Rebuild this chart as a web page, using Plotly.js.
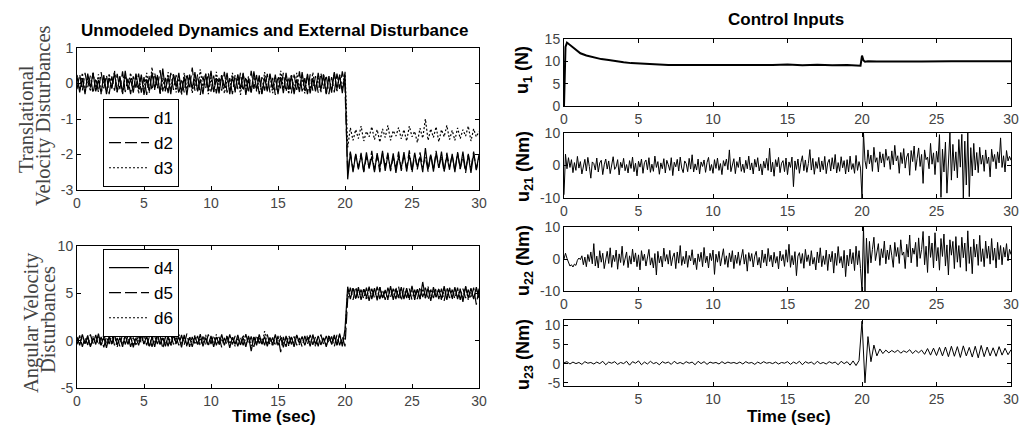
<!DOCTYPE html>
<html><head><meta charset="utf-8">
<script src="https://cdn.plot.ly/plotly-3.0.1.min.js"></script>
<style>html,body{margin:0;padding:0;background:#fff}#c{width:1019px;height:433px}</style>
</head><body><div id="c"></div>
<script>
// sample times (s), 0.2 s grid
const time = [0,0.2,0.4,0.6,0.8,1,1.2,1.4,1.6,1.8,
2,2.2,2.4,2.6,2.8,3,3.2,3.4,3.6,3.8,
4,4.2,4.4,4.6,4.8,5,5.2,5.4,5.6,5.8,
6,6.2,6.4,6.6,6.8,7,7.2,7.4,7.6,7.8,
8,8.2,8.4,8.6,8.8,9,9.2,9.4,9.6,9.8,
10,10.2,10.4,10.6,10.8,11,11.2,11.4,11.6,11.8,
12,12.2,12.4,12.6,12.8,13,13.2,13.4,13.6,13.8,
14,14.2,14.4,14.6,14.8,15,15.2,15.4,15.6,15.8,
16,16.2,16.4,16.6,16.8,17,17.2,17.4,17.6,17.8,
18,18.2,18.4,18.6,18.8,19,19.2,19.4,19.6,19.8,
20,20.2,20.4,20.6,20.8,21,21.2,21.4,21.6,21.8,
22,22.2,22.4,22.6,22.8,23,23.2,23.4,23.6,23.8,
24,24.2,24.4,24.6,24.8,25,25.2,25.4,25.6,25.8,
26,26.2,26.4,26.6,26.8,27,27.2,27.4,27.6,27.8,
28,28.2,28.4,28.6,28.8,29,29.2,29.4,29.6,29.8,
30];

// sample times (s), 0.1 s grid
const timeFine = [0,0.1,0.2,0.3,0.4,0.5,0.6,0.7,0.8,0.9,
1,1.1,1.2,1.3,1.4,1.5,1.6,1.7,1.8,1.9,
2,2.1,2.2,2.3,2.4,2.5,2.6,2.7,2.8,2.9,
3,3.1,3.2,3.3,3.4,3.5,3.6,3.7,3.8,3.9,
4,4.1,4.2,4.3,4.4,4.5,4.6,4.7,4.8,4.9,
5,5.1,5.2,5.3,5.4,5.5,5.6,5.7,5.8,5.9,
6,6.1,6.2,6.3,6.4,6.5,6.6,6.7,6.8,6.9,
7,7.1,7.2,7.3,7.4,7.5,7.6,7.7,7.8,7.9,
8,8.1,8.2,8.3,8.4,8.5,8.6,8.7,8.8,8.9,
9,9.1,9.2,9.3,9.4,9.5,9.6,9.7,9.8,9.9,
10,10.1,10.2,10.3,10.4,10.5,10.6,10.7,10.8,10.9,
11,11.1,11.2,11.3,11.4,11.5,11.6,11.7,11.8,11.9,
12,12.1,12.2,12.3,12.4,12.5,12.6,12.7,12.8,12.9,
13,13.1,13.2,13.3,13.4,13.5,13.6,13.7,13.8,13.9,
14,14.1,14.2,14.3,14.4,14.5,14.6,14.7,14.8,14.9,
15,15.1,15.2,15.3,15.4,15.5,15.6,15.7,15.8,15.9,
16,16.1,16.2,16.3,16.4,16.5,16.6,16.7,16.8,16.9,
17,17.1,17.2,17.3,17.4,17.5,17.6,17.7,17.8,17.9,
18,18.1,18.2,18.3,18.4,18.5,18.6,18.7,18.8,18.9,
19,19.1,19.2,19.3,19.4,19.5,19.6,19.7,19.8,19.9,
20,20.1,20.2,20.3,20.4,20.5,20.6,20.7,20.8,20.9,
21,21.1,21.2,21.3,21.4,21.5,21.6,21.7,21.8,21.9,
22,22.1,22.2,22.3,22.4,22.5,22.6,22.7,22.8,22.9,
23,23.1,23.2,23.3,23.4,23.5,23.6,23.7,23.8,23.9,
24,24.1,24.2,24.3,24.4,24.5,24.6,24.7,24.8,24.9,
25,25.1,25.2,25.3,25.4,25.5,25.6,25.7,25.8,25.9,
26,26.1,26.2,26.3,26.4,26.5,26.6,26.7,26.8,26.9,
27,27.1,27.2,27.3,27.4,27.5,27.6,27.7,27.8,27.9,
28,28.1,28.2,28.3,28.4,28.5,28.6,28.7,28.8,28.9,
29,29.1,29.2,29.3,29.4,29.5,29.6,29.7,29.8,29.9,
30];

const d1 = [0.2,-0.25,0.15,-0.3,0.28,-0.12,0.3,-0.22,0.1,-0.27,
0.24,-0.3,0.16,-0.14,0.3,-0.24,0.2,-0.28,0.36,-0.18,
0.14,-0.26,0.28,-0.16,0.25,-0.32,0.12,-0.22,0.3,-0.15,
0.22,-0.28,0.42,-0.2,0.17,-0.3,0.26,-0.1,0.3,-0.26,
0.18,-0.33,0.24,-0.15,0.32,-0.22,0.12,-0.3,0.27,-0.18,
0.36,-0.24,0.15,-0.28,0.22,-0.12,0.3,-0.3,0.2,-0.22,
0.26,-0.15,0.3,-0.32,0.14,-0.26,0.34,-0.18,0.23,-0.3,
0.17,-0.22,0.28,-0.14,0.25,-0.3,0.18,-0.27,0.3,-0.17,
0.22,-0.3,0.12,-0.24,0.32,-0.2,0.27,-0.28,0.15,-0.22,
0.3,-0.18,0.25,-0.3,0.2,-0.26,0.32,-0.15,0.24,-0.27,
0.3,
-2.7,-1.95,-2.5,-1.98,-2.42,-2.0,-2.48,-1.94,-2.4,-2.05,
-2.5,-1.96,-2.38,-1.9,-2.46,-2.02,-2.42,-1.97,-2.52,-2.04,
-2.4,-1.93,-2.48,-2.0,-2.44,-1.95,-2.36,-2.06,-2.5,-1.82,
-2.42,-2.0,-2.48,-1.96,-2.38,-1.92,-2.46,-2.04,-2.43,-1.98,
-2.5,-1.95,-2.4,-1.92,-2.45,-2.02,-2.52,-1.97,-2.42,-2.0];

const d2 = [-0.16,0.26,-0.2,0.3,-0.1,0.22,-0.28,0.16,-0.25,0.32,
-0.14,0.24,-0.3,0.2,-0.2,0.27,-0.16,0.34,-0.24,0.14,
-0.3,0.2,-0.12,0.28,-0.26,0.18,-0.32,0.25,-0.2,0.3,
-0.15,0.38,-0.22,0.16,-0.27,0.3,-0.18,0.24,-0.3,0.14,
-0.25,0.28,-0.16,0.45,-0.2,0.26,-0.32,0.2,-0.14,0.3,
-0.23,0.22,-0.28,0.16,-0.2,0.33,-0.26,0.15,-0.3,0.25,
-0.16,0.3,-0.22,0.2,-0.27,0.36,-0.15,0.24,-0.3,0.18,
-0.2,0.27,-0.25,0.16,-0.32,0.22,-0.14,0.3,-0.24,0.2,
-0.28,0.25,-0.18,0.34,-0.22,0.15,-0.3,0.26,-0.2,0.21,
-0.26,0.3,-0.16,0.24,-0.3,0.18,-0.25,0.28,-0.15,0.34,
-0.1,
-2.55,-1.92,-2.45,-2.0,-2.38,-1.95,-2.5,-2.05,-2.36,-1.9,
-2.44,-2.02,-2.5,-1.97,-2.34,-1.95,-2.47,-2.06,-2.4,-1.92,
-2.46,-2.03,-2.4,-1.88,-2.52,-2.0,-2.42,-1.94,-2.36,-2.06,
-2.48,-1.98,-2.44,-1.9,-2.38,-2.04,-2.5,-1.95,-2.35,-2.02,
-2.46,-1.93,-2.41,-2.04,-2.52,-1.98,-2.38,-1.92,-2.44,-2.06];

const d3 = [0.24,-0.16,0.3,-0.26,0.15,-0.22,0.33,-0.18,0.26,-0.3,
0.16,-0.24,0.28,-0.14,0.36,-0.25,0.2,-0.3,0.22,-0.13,
0.3,-0.2,0.25,-0.28,0.17,-0.16,0.3,-0.26,0.46,-0.18,
0.24,-0.3,0.15,-0.22,0.32,-0.17,0.27,-0.25,0.2,-0.32,
0.3,-0.16,0.25,-0.27,0.19,-0.22,0.4,-0.14,0.28,-0.3,
0.17,-0.24,0.33,-0.18,0.26,-0.28,0.15,-0.2,0.3,-0.25,
0.22,-0.32,0.27,-0.16,0.2,-0.26,0.3,-0.22,0.14,-0.3,
0.32,-0.18,0.25,-0.27,0.17,-0.24,0.36,-0.15,0.22,-0.3,
0.26,-0.2,0.3,-0.14,0.18,-0.28,0.24,-0.22,0.31,-0.17,
0.15,-0.26,0.27,-0.3,0.2,-0.18,0.3,-0.24,0.25,-0.15,
0.33,
-1.8,-1.25,-1.6,-1.3,-1.55,-1.2,-1.62,-1.35,-1.5,-1.22,
-1.58,-1.3,-1.65,-1.28,-1.52,-1.18,-1.6,-1.33,-1.48,-1.24,
-1.56,-1.3,-1.62,-1.2,-1.5,-1.35,-1.66,-1.26,-1.54,-1.0,
-1.6,-1.28,-1.52,-1.22,-1.64,-1.3,-1.5,-1.18,-1.58,-1.32,
-1.6,-1.25,-1.55,-1.3,-1.48,-1.2,-1.62,-1.28,-1.5,-1.35];

const d4 = [0.4,-0.5,0.65,-0.3,0.55,-0.65,0.3,-0.4,0.75,-0.5,
0.4,-0.75,0.5,-0.3,0.65,-0.45,0.35,-0.65,0.6,-0.4,
0.45,-0.7,0.3,-0.5,0.65,-0.35,0.5,-0.6,0.4,-0.65,
0.75,-0.4,0.3,-0.6,0.5,-0.45,0.65,-0.3,0.4,-0.7,
0.6,-0.5,0.35,-0.65,0.45,-0.4,0.7,-0.6,0.3,-0.45,
0.5,-0.65,0.4,-0.35,0.65,-0.5,0.45,-0.75,0.35,-0.4,
0.6,-0.45,0.3,-0.65,0.5,-1.1,0.4,-0.5,0.65,-0.35,
0.45,-0.6,0.35,-0.4,0.65,-0.5,0.3,-0.7,0.5,-0.4,
0.4,-0.65,0.6,-0.3,0.45,-0.5,0.35,-0.6,0.65,-0.4,
0.5,-0.45,0.3,-0.65,0.4,-0.35,0.6,-0.5,0.75,-0.6,
1.2,
5.7,4.4,5.55,4.45,5.65,4.3,5.45,4.6,5.7,4.4,
5.55,4.25,5.65,4.5,5.35,4.4,5.75,4.3,5.45,4.6,
5.65,4.4,5.55,4.5,5.8,4.3,5.45,4.4,6.2,4.5,
5.55,4.2,5.65,4.6,5.45,4.4,5.75,4.3,5.55,4.5,
5.65,4.4,5.45,4.1,5.75,4.5,5.55,4.4,5.65,4.5];

const d5 = [-0.4,0.55,-0.65,0.35,-0.45,0.65,-0.3,0.6,-0.5,0.4,
-0.7,0.45,-0.35,0.65,-0.5,0.3,-0.6,0.75,-0.4,0.5,
-0.65,0.35,-0.45,0.6,-0.3,0.7,-0.5,0.4,-0.65,0.45,
-0.35,0.5,-0.85,0.4,-0.6,0.65,-0.4,0.35,-0.5,0.6,
-0.45,0.75,-0.65,0.4,-0.3,0.5,-0.6,0.45,-0.4,0.65,
-0.35,0.6,-0.5,0.4,-0.7,0.3,-0.45,0.65,-0.4,0.5,
-0.6,0.35,-0.5,0.7,-0.4,0.45,-0.65,0.6,-0.3,0.4,
-0.5,0.65,-0.45,0.35,-0.6,0.5,-1.2,0.4,-0.65,0.6,
-0.4,0.45,-0.5,0.3,-0.65,0.5,-0.35,0.6,-0.45,0.4,
-0.6,0.65,-0.4,0.5,-0.3,0.45,-0.65,0.6,-0.5,0.4,
-0.6,
4.4,5.6,4.3,5.7,4.5,5.4,4.4,5.6,4.2,5.5,
4.5,5.7,4.4,5.4,4.3,5.6,4.6,5.5,4.4,5.7,
4.2,5.6,4.5,5.5,4.3,5.4,4.4,5.7,4.6,5.6,
4.3,5.4,4.5,5.6,4.4,5.5,4.2,5.7,4.5,5.4,
4.4,5.6,4.3,5.5,4.5,5.4,4.4,5.6,3.8,5.5];

const d6 = [0.15,-0.3,0.55,-0.4,0.3,-0.6,0.45,-0.15,0.4,-0.55,
0.65,-0.3,0.35,-0.45,0.55,-0.65,0.2,-0.4,0.6,-0.35,
0.4,-0.55,0.65,-0.2,0.45,-0.4,0.3,-0.65,0.55,-0.3,
0.4,-0.45,0.6,-0.35,0.2,-0.55,0.45,-0.4,0.65,-0.3,
0.35,-0.6,0.4,-0.2,0.55,-0.45,0.3,-0.4,0.6,-0.55,
0.4,-0.3,0.65,-0.45,0.2,-0.4,0.55,-0.35,0.45,-0.6,
0.3,-0.4,0.6,-0.3,0.4,-0.55,0.45,-0.2,0.35,-0.45,
1.0,-0.4,0.3,-0.6,0.45,-0.35,0.55,-0.4,0.2,-0.55,
0.4,-0.3,0.6,-0.45,0.35,-0.4,0.55,-0.2,0.4,-0.6,
0.45,-0.35,0.3,-0.55,0.6,-0.4,0.35,-0.45,0.65,-0.3,
0.5,
5.3,4.6,5.6,4.4,5.4,4.5,5.5,4.3,5.6,4.6,
5.4,4.4,5.7,4.5,5.3,4.3,5.5,4.6,5.6,4.4,
5.4,4.5,5.3,4.3,5.6,4.6,5.4,4.4,5.5,4.5,
5.7,4.4,5.3,4.6,5.5,4.3,5.4,4.5,5.6,4.4,
5.3,4.6,5.5,4.4,5.7,4.3,5.4,4.5,5.3,4.6];

const tU1 = [0,0.1,0.2,0.35,0.5,0.8,1.1,1.5,2,2.5,3,3.5,4,4.5,5,5.5,6,7,8,9,10,11,12,13,14,15,16,17,18,19,19.9,20,20.1,20.2,20.4,21,22,24,26,28,30];
const u1 = [0,13.2,14.2,13.8,13.2,12.4,11.8,11.3,10.9,10.5,10.3,10.0,9.8,9.6,9.5,9.4,9.25,9.2,9.2,9.2,9.2,9.15,9.25,9.1,9.2,9.3,9.15,9.25,9.1,9.2,9.0,11.3,10.2,9.9,10.0,9.95,10.0,9.95,10.0,9.95,10.0];

const u21 = [-9,3.5,-1.0,2.4,-0.6,1.8,-2.2,0.9,-1.5,2.8,
-0.8,1.2,-2.6,0.4,1.9,-1.7,2.5,-0.3,-3.9,1.1,
0.6,-1.4,2.3,-2.0,0.8,1.6,-2.8,0.2,2.0,-1.1,
1.4,-2.5,0.5,2.7,-1.2,-0.4,1.8,-2.9,1.0,-0.7,
2.2,-1.6,0.3,-2.3,1.5,-0.9,2.6,-1.9,0.7,-3.2,
1.3,-0.5,2.0,-2.4,0.9,1.7,-1.3,2.4,-2.1,0.4,
-1.8,2.9,-0.6,1.2,-2.7,0.8,-1.0,2.1,-2.3,1.6,
0.2,-1.5,2.4,-3.1,1.0,-0.4,1.9,-1.7,2.6,-0.8,
-2.2,1.4,0.6,-1.9,2.2,-1.1,3.3,-2.0,0.5,-1.4,
2.0,-2.6,1.1,-0.3,1.7,-2.1,0.9,2.5,-1.6,0.3,
-2.4,1.8,-0.9,2.3,-1.5,0.6,-2.8,1.5,-0.2,2.0,
-1.3,4.8,-1.9,0.7,2.1,-2.5,1.2,-0.6,2.6,-1.8,
0.4,-2.2,1.6,-1.0,2.9,-1.4,0.8,-2.6,1.9,-0.5,
2.4,-1.7,0.5,-2.9,1.3,-0.8,2.2,-1.5,5.3,-2.0,
1.0,-3.3,1.8,-0.4,2.5,-2.2,0.7,1.5,-1.9,2.3,
-2.8,1.1,-0.6,2.6,-6.5,1.4,-1.2,2.0,-2.4,0.9,
3.0,-1.6,1.7,-2.1,0.6,4.9,-1.4,2.2,-2.7,1.2,
-0.9,2.5,-2.0,1.4,-1.3,2.8,-2.5,0.8,1.9,-1.7,
2.4,-1.1,3.4,-2.3,0.9,-1.8,2.7,-0.7,1.5,-2.6,
1.8,-2.0,2.9,-1.2,0.6,-2.4,3.1,-1.5,1.2,-0.8,
-10,
10,1.5,-1.0,4.8,0.5,3.2,-1.8,5.6,1.0,2.4,
-2.0,4.2,0.8,3.6,-0.5,5.0,1.6,2.8,-1.2,4.5,
0.2,6.2,1.4,3.0,-2.4,4.0,0.6,5.2,-0.8,2.6,
3.8,-3.0,4.6,1.2,6.0,-1.5,2.2,5.4,-0.3,3.4,
-5.5,4.8,1.8,2.6,-1.0,6.8,0.4,3.9,-2.8,4.4,
1.0,9.5,-9.8,5.0,-2.0,7.2,-8.5,3.0,10,-4.5,
6.5,-1.6,4.2,-3.8,8.0,-0.5,9.6,-10,7.5,-6.0,
10,-9.6,5.5,-3.2,6.8,-1.4,4.0,-2.2,5.6,0.4,
3.2,-1.8,4.8,0.6,2.6,-3.5,5.0,1.2,3.4,-1.0,
4.2,0.8,8.5,-0.6,3.0,-2.0,4.6,1.4,2.8,1.6];

const u22 = [0,1.8,0.2,-1.2,-2.2,-1.8,-2.5,-1.6,-2.0,-0.4,
0.3,-0.2,1.0,-1.8,0.6,-2.4,1.4,-0.8,2.2,-1.5,
4.8,-2.2,0.9,-2.8,2.6,-1.0,1.8,-3.0,0.5,2.4,
-1.4,3.5,-2.6,1.2,-0.8,2.8,-3.2,1.6,-1.1,4.0,
-2.0,0.7,2.2,-2.7,1.0,-1.6,3.1,-0.9,1.9,-2.4,
1.3,-3.4,2.6,-0.5,1.5,-2.2,0.8,3.0,-1.9,0.4,
-2.8,1.7,-5.0,2.4,-1.2,0.9,-2.5,3.4,-0.7,1.4,
-1.6,2.7,-2.1,0.6,1.9,-3.0,2.2,-1.3,4.2,-2.0,
0.8,-1.5,2.5,-2.6,1.1,-0.6,2.9,-1.8,0.3,-3.3,
1.6,-0.8,2.1,-2.4,3.6,-1.2,0.9,-2.8,1.8,-0.5,
2.8,-4.8,1.5,-1.0,2.4,-2.2,0.6,3.2,-1.7,1.0,
-2.6,1.9,-0.9,2.6,-3.0,1.2,-1.4,2.2,-2.0,0.7,
3.0,-1.6,1.4,-3.8,2.0,-0.7,1.7,-2.5,0.9,2.4,
-1.9,0.5,-2.8,2.8,-1.1,1.6,-2.2,3.3,-0.8,1.2,
-2.5,2.1,-1.3,0.8,-3.1,2.5,-0.6,1.4,-2.3,2.9,
-1.0,4.6,-2.6,1.1,-1.8,2.3,-5.2,0.9,2.0,-1.4,
1.7,-2.9,3.0,-0.8,1.3,-2.1,2.6,-1.6,0.5,-3.4,
2.2,-1.2,3.5,-2.4,1.0,-1.7,2.8,-3.6,1.5,-0.9,
2.4,-4.4,1.8,-2.0,3.9,-1.3,0.8,-2.8,2.7,-5.5,
1.2,-2.2,3.1,-1.5,2.0,-3.6,4.0,-1.8,2.6,-3.0,
-10,
10,-10,6.5,-4.5,5.5,-1.2,3.0,6.8,-0.5,2.6,
4.8,-2.0,3.2,0.4,5.6,-1.5,2.8,-0.2,4.4,1.0,
-2.6,5.2,0.8,3.6,-1.4,6.0,1.2,2.2,-3.0,4.6,
0.6,7.5,-1.2,3.4,1.5,5.2,-2.4,6.6,0.2,3.0,
8.6,-1.8,4.0,-4.2,7.2,0.5,5.0,-2.8,8.2,-0.6,
3.6,-3.5,6.4,0.8,7.8,-2.2,4.4,-5.0,6.0,1.2,
5.5,-3.0,7.0,-1.0,4.2,-2.6,6.8,0.4,5.0,-3.8,
8.8,-1.4,3.8,-4.6,6.2,0.6,4.6,-2.0,7.4,-0.8,
3.2,-2.4,5.6,0.2,4.0,-1.6,6.4,-0.4,3.4,-2.8,
5.2,-0.2,4.2,-1.8,3.6,0.6,4.8,-0.6,3.0,1.4];

const u23 = [0.2,0.5,-0.1,0.4,0.0,0.3,-0.2,0.5,0.1,0.3,
-0.1,0.4,0.0,0.6,-0.3,0.4,0.1,0.5,-0.2,0.3,
0.0,0.6,-0.4,0.5,0.1,0.7,-0.3,0.4,-0.1,0.6,
0.0,0.3,-0.3,0.5,0.1,0.4,-0.2,0.6,0.0,0.3,
-0.1,0.5,0.1,0.4,-0.3,0.6,0.0,0.5,-0.2,0.4,
0.1,0.3,-0.1,0.5,0.0,0.4,0.1,0.3,0.0,0.4,
-0.1,0.5,0.1,0.3,-0.2,0.4,0.0,0.5,0.1,0.3,
0.0,0.4,-0.1,0.3,0.1,0.5,-0.2,0.4,0.0,0.6,
-0.3,0.5,0.1,0.4,-0.2,0.6,0.0,0.3,-0.1,0.5,
0.1,0.4,-0.3,0.6,0.0,0.5,-0.4,0.7,-0.5,0.8,
11,
-5,7,0.5,4.8,2.0,3.8,2.6,3.5,2.8,3.4,
2.9,3.5,2.7,3.3,2.9,3.6,2.6,3.4,2.8,3.5,
2.4,3.9,2.2,4.0,2.1,4.2,2.0,4.3,1.8,4.5,
1.9,4.4,1.6,4.6,2.0,4.2,1.7,4.5,1.5,4.7,
1.8,4.3,2.0,4.1,1.9,4.4,2.2,4.0,2.3,3.6];

const xTicks = [0,5,10,15,20,25,30];
const xTicksU23 = [5,10,15,20,25,30];
const yTicksTrans = [-3,-2,-1,0,1];
const yTicksAng = [-5,0,5,10];
const yTicksU1 = [0,5,10,15];
const yTicksU2 = [-10,0,10];
const yTicksU23 = [-5,0,5,10];

const W = 1019, H = 433;
const px = v => v / W;
const py = v => 1 - v / H;
const SANS = 'Liberation Sans, Arial, sans-serif';
const SERIF = 'Liberation Serif, Times New Roman, serif';

function ax(domain, range, tickvals, anchor) {
  return {domain: domain, range: range, tickvals: tickvals, ticktext: tickvals.map(String), anchor: anchor,
    showline: true, linecolor: '#000', linewidth: 1, mirror: 'ticks',
    ticks: 'inside', ticklen: 4, tickcolor: '#000', tickwidth: 1,
    showgrid: false, zeroline: false, fixedrange: true,
    tickfont: {family: SANS, size: 14, color: '#444'}};
}

const lx = [px(77), px(479)];
const rx = [px(564), px(1011)];
const blk = '#000';
const LW = 1.2;

const data = [
  {x: time, y: d1, xaxis: 'x', yaxis: 'y', name: 'd1', mode: 'lines', line: {color: blk, width: LW}, legend: 'legend'},
  {x: time, y: d2, xaxis: 'x', yaxis: 'y', name: 'd2', mode: 'lines', line: {color: blk, width: LW, dash: '12px,4px'}, legend: 'legend'},
  {x: time, y: d3, xaxis: 'x', yaxis: 'y', name: 'd3', mode: 'lines', line: {color: blk, width: LW, dash: '2px,2px'}, legend: 'legend'},
  {x: time, y: d4, xaxis: 'x2', yaxis: 'y2', name: 'd4', mode: 'lines', line: {color: blk, width: LW}, legend: 'legend2'},
  {x: time, y: d5, xaxis: 'x2', yaxis: 'y2', name: 'd5', mode: 'lines', line: {color: blk, width: LW, dash: '12px,4px'}, legend: 'legend2'},
  {x: time, y: d6, xaxis: 'x2', yaxis: 'y2', name: 'd6', mode: 'lines', line: {color: blk, width: LW, dash: '2px,2px'}, legend: 'legend2'},
  {x: tU1, y: u1, xaxis: 'x3', yaxis: 'y3', name: 'u1', mode: 'lines', line: {color: blk, width: 2}, showlegend: false},
  {x: timeFine, y: u21, xaxis: 'x4', yaxis: 'y4', name: 'u21', mode: 'lines', line: {color: blk, width: 1}, showlegend: false},
  {x: timeFine, y: u22, xaxis: 'x5', yaxis: 'y5', name: 'u22', mode: 'lines', line: {color: blk, width: 1}, showlegend: false},
  {x: time, y: u23, xaxis: 'x6', yaxis: 'y6', name: 'u23', mode: 'lines', line: {color: blk, width: 1}, showlegend: false}
];

const legStyle = {xref: 'paper', yref: 'paper', xanchor: 'left', yanchor: 'top',
  bgcolor: '#fff', bordercolor: '#000', borderwidth: 1,
  font: {family: SANS, size: 17, color: '#000'}, itemwidth: 40, tracegroupgap: 0};

function ann(text, x, y, opts) {
  return Object.assign({text: text, x: x, y: y, xref: 'paper', yref: 'paper',
    showarrow: false, xanchor: 'center', yanchor: 'middle',
    font: {family: SANS, size: 17, color: '#000'}}, opts || {});
}
const serifFont = {family: SERIF, size: 20.5, color: '#444'};
const uFont = {family: SANS, size: 18, color: '#000'};

const layout = {
  width: W, height: H, margin: {l: 0, r: 0, t: 0, b: 0},
  paper_bgcolor: '#fff', plot_bgcolor: '#fff', showlegend: true,
  xaxis: ax(lx, [0, 30], xTicks, 'y'),
  yaxis: ax([py(190), py(48)], [-3, 1], yTicksTrans, 'x'),
  xaxis2: ax(lx, [0, 30], xTicks, 'y2'),
  yaxis2: ax([py(388), py(246)], [-5, 10], yTicksAng, 'x2'),
  xaxis3: ax(rx, [0, 30], xTicks, 'y3'),
  yaxis3: ax([py(106), py(39)], [0, 15], yTicksU1, 'x3'),
  xaxis4: ax(rx, [0, 30], xTicks, 'y4'),
  yaxis4: ax([py(198), py(133)], [-10, 10], yTicksU2, 'x4'),
  xaxis5: ax(rx, [0, 30], xTicks, 'y5'),
  yaxis5: ax([py(291), py(227)], [-10, 10], yTicksU2, 'x5'),
  xaxis6: ax(rx, [0, 30], xTicksU23, 'y6'),
  yaxis6: ax([py(386), py(320)], [-5.8, 11.3], yTicksU23, 'x6'),
  legend: Object.assign({x: px(103), y: py(99)}, legStyle),
  legend2: Object.assign({x: px(103), y: py(249)}, legStyle),
  annotations: [
    ann('<b>Unmodeled Dynamics and External Disturbance</b>', px(274), py(30)),
    ann('<b>Control Inputs</b>', px(786), py(19)),
    ann('<b>Time (sec)</b>', px(274), py(416)),
    ann('<b>Time (sec)</b>', px(789), py(416)),
    ann('Translational', px(26), py(119), {textangle: -90, font: serifFont}),
    ann('Velocity Disturbances', px(43), py(116), {textangle: -90, font: serifFont}),
    ann('Angular Velocity', px(31), py(323), {textangle: -90, font: serifFont}),
    ann('Disturbances', px(48), py(320), {textangle: -90, font: serifFont}),
    ann('<b>u<sub>1</sub> (N)</b>', px(524), py(70), {textangle: -90, font: uFont}),
    ann('<b>u<sub>21</sub> (Nm)</b>', px(524), py(167), {textangle: -90, font: uFont}),
    ann('<b>u<sub>22</sub> (Nm)</b>', px(524), py(261), {textangle: -90, font: uFont}),
    ann('<b>u<sub>23</sub> (Nm)</b>', px(524), py(355), {textangle: -90, font: uFont})
  ]
};

Plotly.newPlot('c', data, layout, {displayModeBar: false, staticPlot: true});
</script>
</body></html>
